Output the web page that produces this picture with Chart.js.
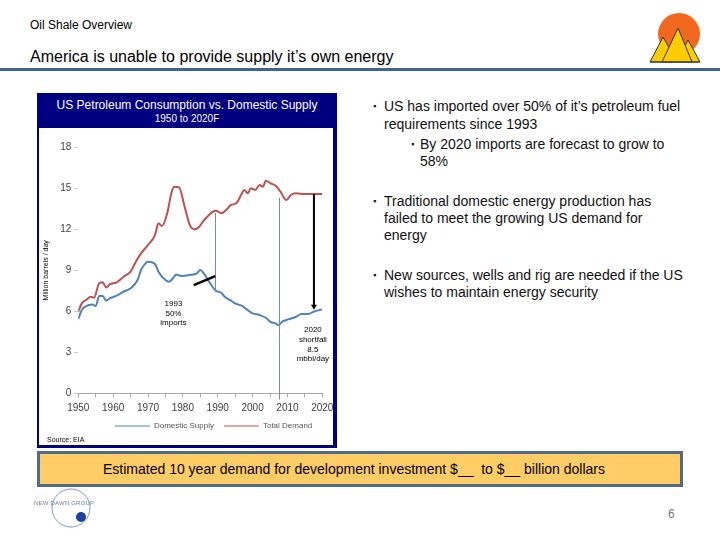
<!DOCTYPE html>
<html><head><meta charset="utf-8">
<script src="https://cdn.jsdelivr.net/npm/chart.js@4.4.0/dist/chart.umd.min.js"></script>
<style>
html,body{margin:0;padding:0;background:#fff;}
body{width:720px;height:540px;position:relative;overflow:hidden;font-family:"Liberation Sans",Arial,sans-serif;color:#000;}
.abs{position:absolute;white-space:nowrap;}
#kicker{left:30px;top:18px;font-size:12px;line-height:14px;}
#title{left:30px;top:48px;font-size:16px;line-height:18px;}
#rule{left:0;top:68px;width:720px;height:3px;background:#3D6593;}
#box{left:37px;top:93px;width:294px;height:352px;border-left:2px solid #000080;border-right:4px solid #000080;border-bottom:3px solid #000080;background:#fff;}
#head{left:37px;top:93px;width:300px;height:35px;background:#000080;color:#fff;text-align:center;}
#head .t1{position:absolute;left:0;width:300px;top:5px;font-size:12px;line-height:14px;}
#head .t2{position:absolute;left:0;width:300px;top:20px;font-size:10px;line-height:12px;}
#chartWrap{left:40px;top:130px;width:293px;height:312px;}
#source{left:47px;top:436px;font-size:7px;line-height:8px;}
.bl{position:absolute;white-space:nowrap;font-size:14px;line-height:16px;color:#111;}
.bu{position:absolute;font-size:9px;line-height:16px;color:#111;}
#band{left:37px;top:451px;width:628px;padding-right:12px;height:30px;background:#FFCC66;border:3px solid #4F6B8C;text-align:center;font-size:14px;line-height:30px;}
#page{left:668px;top:507px;font-size:12px;line-height:14px;color:#777;}
#ndg{left:34px;top:500px;font-size:6px;line-height:7px;color:#7080A0;letter-spacing:0.2px;}
</style></head>
<body>
<div class="abs" id="kicker">Oil Shale Overview</div>
<div class="abs" id="title">America is unable to provide supply it’s own energy</div>
<div class="abs" id="rule"></div>
<svg class="abs" style="left:640px;top:5px" width="70" height="62" viewBox="640 5 70 62">
  <circle cx="679" cy="34" r="21" fill="#F2681F"/>
  <polygon points="650,62 663,37 677,62" fill="#FFCC00" stroke="#333" stroke-width="1"/>
  <polygon points="677,62 688,40 700,62" fill="#FFCC00" stroke="#333" stroke-width="1"/>
  <polygon points="662,62 678,28 692,62" fill="#FFCC00" stroke="#333" stroke-width="1"/>
  <line x1="650" y1="62" x2="700" y2="62" stroke="#333" stroke-width="1"/>
</svg>

<div class="abs" id="box"></div>
<div class="abs" id="head"><div class="t1">US Petroleum Consumption vs. Domestic Supply</div><div class="t2">1950 to 2020F</div></div>
<div class="abs" id="chartWrap"><canvas id="c" width="293" height="312"></canvas></div>
<div class="abs" id="source">Source: EIA</div>

<span class="bu" style="left:373px;top:98px">▪</span><span class="bl" style="left:384px;top:98px">US has imported over 50% of it’s petroleum fuel</span>
<span class="bl" style="left:384px;top:116px">requirements since 1993</span>
<span class="bu" style="left:411px;top:136px">▪</span><span class="bl" style="left:420px;top:136px">By 2020 imports are forecast to grow to</span>
<span class="bl" style="left:420px;top:153px">58%</span>
<span class="bu" style="left:373px;top:193px">▪</span><span class="bl" style="left:384px;top:193px">Traditional domestic energy production has</span>
<span class="bl" style="left:384px;top:210px">failed to meet the growing US demand for</span>
<span class="bl" style="left:384px;top:227px">energy</span>
<span class="bu" style="left:373px;top:267px">▪</span><span class="bl" style="left:384px;top:267px">New sources, wells and rig are needed if the US</span>
<span class="bl" style="left:384px;top:284px">wishes to maintain energy security</span>

<div class="abs" id="band">Estimated 10 year demand for development investment $__&nbsp; to $__ billion dollars</div>

<svg class="abs" style="left:30px;top:485px" width="70" height="50" viewBox="30 485 70 50">
  <circle cx="71" cy="508" r="19" fill="none" stroke="#7D9BC8" stroke-width="1"/>
  <circle cx="81" cy="517" r="5" fill="#2040A0"/>
</svg>
<div class="abs" id="ndg">NEW DAWN GROUP</div>
<div class="abs" id="page">6</div>

<script>
// ---- data ----
const seriesNames = ['Domestic Supply', 'Total Demand'];
const supplyYears = [1950,1951,1952,1954,1955,1956,1957,1958,1959,1961,1963,1965,1967,1968,1969.5,1970,1972,1973,1975,1976,1977.5,1978,1979.5,1982,1984,1985,1986,1987.5,1989.5,1991,1992,1994,1995,1997,1998.5,2000,2002,2004,2005,2006.5,2007.5,2008.5,2010.5,2012.5,2014,2016,2017.5,2020];
const supplyValues = [5.43,6.1,6.34,6.5,6.39,7.12,7.12,6.78,6.95,7.14,7.44,7.68,8.29,9.02,9.56,9.63,9.46,8.9,8.29,8.17,8.53,8.7,8.58,8.65,8.78,9.02,8.78,8.17,7.5,7.36,7.07,6.75,6.58,6.39,6.1,5.85,5.73,5.49,5.24,5.12,5.0,5.24,5.43,5.6,5.8,5.8,5.97,6.14];
const demandYears = [1950,1951,1952.5,1953.5,1954.5,1956,1957,1958,1959,1961,1963,1965,1966.5,1968,1970,1972,1973,1974,1975.5,1976.8,1977.6,1978.9,1980.5,1982,1983.3,1984.7,1985.7,1987,1988.6,1989.5,1991,1992.4,1993.8,1995.3,1996.7,1997.6,1998.6,1999.5,2000.8,2002,2003,2003.8,2005.2,2006.7,2008,2009.7,2011,2012.4,2015,2020];
const demandValues = [5.97,6.58,6.88,7.07,7.0,8.05,8.12,7.75,7.97,8.12,8.53,8.9,9.63,10.24,10.85,11.58,12.44,12.24,13.17,14.75,15.12,15.07,13.65,12.31,12.0,12.19,12.55,12.92,13.29,13.36,13.17,13.41,13.78,13.9,14.51,14.88,14.63,15.0,14.88,15.24,15.12,15.56,15.36,15.17,14.75,14.14,14.51,14.63,14.58,14.58];
const yTickValues = [0,3,6,9,12,15,18];
const xTickLabels = ['1950','1960','1970','1980','1990','2000','2010','2020'];
// annotations (data units)
const guideYears = [1989.3, 2007.5];
const guideTops = [13.2, 14.3];
const guideBottoms = [7.4, -0.45];
const pointerYears = [1983.1, 1989.3];
const pointerValues = [7.92, 8.58];
const shortfallYear = 2017.6;
const shortfallRange = [14.58, 6.12];
const note1993 = ['1993', '50%', 'imports'];
const note1993At = [1977.3, 6.53];
const note2020 = ['2020', 'shortfall', '8.5', 'mbbl/day'];
const note2020At = [2017.3, 4.63];

const FONT = '"Liberation Sans", Arial, sans-serif';
const toXY = (xs, ys) => xs.map((x, i) => ({x, y: ys[i]}));

const annotationPlugin = {
  id: 'notes',
  afterDatasetsDraw(chart) {
    const {ctx, scales: {x, y}} = chart;
    ctx.save();
    ctx.strokeStyle = '#6F8DB2'; ctx.lineWidth = 1;
    guideYears.forEach((yr, i) => {
      const px = Math.round(x.getPixelForValue(yr)) + 0.5;
      ctx.beginPath(); ctx.moveTo(px, y.getPixelForValue(guideTops[i])); ctx.lineTo(px, y.getPixelForValue(guideBottoms[i])); ctx.stroke();
    });
    ctx.strokeStyle = '#000'; ctx.lineWidth = 2.5;
    ctx.beginPath();
    ctx.moveTo(x.getPixelForValue(pointerYears[0]), y.getPixelForValue(pointerValues[0]));
    ctx.lineTo(x.getPixelForValue(pointerYears[1]), y.getPixelForValue(pointerValues[1]));
    ctx.stroke();
    // shortfall arrow
    const ax = x.getPixelForValue(shortfallYear);
    const aTop = y.getPixelForValue(shortfallRange[0]);
    const aBot = y.getPixelForValue(shortfallRange[1]);
    ctx.lineWidth = 2;
    ctx.beginPath(); ctx.moveTo(ax, aTop); ctx.lineTo(ax, aBot - 4); ctx.stroke();
    ctx.fillStyle = '#000';
    ctx.beginPath(); ctx.moveTo(ax - 3, aBot - 5); ctx.lineTo(ax + 3, aBot - 5); ctx.lineTo(ax, aBot); ctx.closePath(); ctx.fill();
    // notes
    ctx.font = '8px ' + FONT; ctx.textAlign = 'center'; ctx.textBaseline = 'middle'; ctx.fillStyle = '#000';
    const n1x = x.getPixelForValue(note1993At[0]), n1y = y.getPixelForValue(note1993At[1]);
    note1993.forEach((t, i) => ctx.fillText(t, n1x, n1y + i * 9.5));
    const n2x = x.getPixelForValue(note2020At[0]), n2y = y.getPixelForValue(note2020At[1]);
    note2020.forEach((t, i) => ctx.fillText(t, n2x, n2y + i * 9.7));
    ctx.restore();
  }
};

new Chart(document.getElementById('c'), {
  type: 'line',
  data: {
    datasets: [
      {label: seriesNames[0], data: toXY(supplyYears, supplyValues), borderColor: '#4F81BD', backgroundColor: '#4F81BD', borderWidth: 2, pointRadius: 0, cubicInterpolationMode: 'monotone'},
      {label: seriesNames[1], data: toXY(demandYears, demandValues), borderColor: '#C0504D', backgroundColor: '#C0504D', borderWidth: 2, pointRadius: 0, cubicInterpolationMode: 'monotone'}
    ]
  },
  options: {
    responsive: false, animation: false, devicePixelRatio: 1,
    layout: {padding: {left: 0, right: 10.7, top: 17.3, bottom: 2}},
    plugins: {
      tooltip: {enabled: false},
      legend: {
        position: 'bottom', align: 'end',
        labels: {
          usePointStyle: true, pointStyle: 'line', pointStyleWidth: 35, padding: 10,
          color: '#555', font: {size: 8, family: FONT},
          generateLabels(chart) {
            return Chart.defaults.plugins.legend.labels.generateLabels(chart).map(l => Object.assign(l, {lineWidth: 1, pointStyle: 'line'}));
          }
        }
      }
    },
    scales: {
      x: {
        type: 'linear', min: 1950, max: 2020,
        ticks: {stepSize: 5, autoSkip: false, maxRotation: 0, padding: 5, color: '#404040', font: {size: 10, family: FONT},
          callback: v => { const s = String(v); return xTickLabels.includes(s) ? s : ''; }},
        grid: {drawOnChartArea: false, drawTicks: true, tickLength: 4, color: '#A8A8A8'},
        border: {display: true, color: '#A8A8A8'},
        afterFit: s => { s.height = 18.7; s.paddingLeft = 0; s.paddingRight = 0; }
      },
      y: {
        min: 0, max: 18,
        afterBuildTicks: s => { s.ticks = yTickValues.map(v => ({value: v})); },
        ticks: {padding: 3, color: '#404040', font: {size: 10, family: FONT}},
        grid: {drawOnChartArea: false, drawTicks: true, tickLength: 4, color: '#C8C8C8'},
        border: {display: false},
        title: {display: true, text: 'Million barrels / day', color: '#000', font: {size: 7, family: FONT}, padding: {top: 2, bottom: 0}},
        afterFit: s => { s.width = 38.3; s.paddingTop = 0; s.paddingBottom = 0; }
      }
    }
  },
  plugins: [annotationPlugin]
});
</script>
</body></html>
